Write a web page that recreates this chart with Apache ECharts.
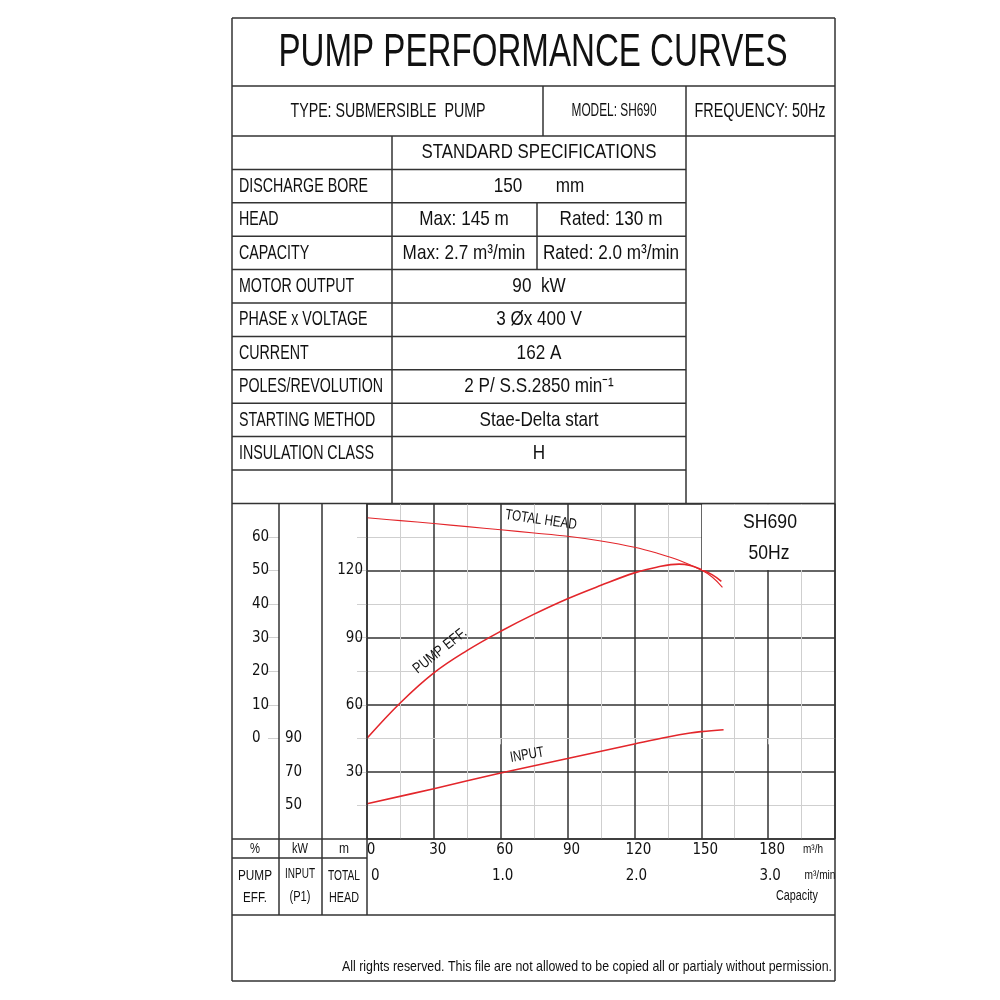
<!DOCTYPE html>
<html>
<head>
<meta charset="utf-8">
<script src="https://cdn.jsdelivr.net/npm/echarts@6/dist/echarts.min.js"></script>
<style>
  html, body { margin: 0; padding: 0; background: #fff; }
  #main { width: 1000px; height: 1000px; }
</style>
</head>
<body>
<div id="main"></div>
<script>
// ---- data ----
const specLabels = ['DISCHARGE BORE', 'HEAD', 'CAPACITY', 'MOTOR OUTPUT', 'PHASE x VOLTAGE',
  'CURRENT', 'POLES/REVOLUTION', 'STARTING METHOD', 'INSULATION CLASS']
const specValues = [['150', 'mm'], ['Max: 145 m', 'Rated: 130 m'], ['Max: 2.7 m³/min', 'Rated: 2.0 m³/min'],
  ['90  kW'], ['3 Øx 400 V'], ['162 A'], ['2 P/ S.S.2850 min⁻¹'], ['Stae-Delta start'], ['H']]

const qTicks = [0, 30, 60, 90, 120, 150, 180]       // m3/h
const qMinTicks = [0, 1, 2, 3]                       // m3/min
const headTicks = [30, 60, 90, 120]                  // m
const kwTicks = [50, 70, 90]                         // kW
const kwMarks = [50, 70, 90, 110, 130, 150, 170, 190, 210]
const pctTicks = [0, 10, 20, 30, 40, 50, 60]         // %

// [capacity m3/h, value]
const headCurve = [[0, 143.6], [15, 142.3], [30, 141], [45, 139.6], [60, 138.2], [75, 136.8], [90, 135.3],
  [105, 133.2], [120, 130.4], [130, 127.8], [140, 124.6], [150, 120.2], [155, 117], [159.5, 112.5]]
const effCurve = [[0, 0], [15, 10.6], [30, 19.5], [45, 26.2], [60, 31.9], [75, 37], [90, 41.6], [105, 45.6],
  [120, 49.3], [130, 51], [140, 51.9], [145, 51.5], [150, 50.3], [155, 48.7], [159, 46.8]]
const inputCurve = [[0, 51], [30, 60], [60, 69.3], [90, 78], [120, 86.6], [135, 90.8], [145, 93.2],
  [150, 94], [160, 95.1]]

// ---- styling ----
const INK = '#111'
const LINE = '#333'
const RED = '#e3262b'
const FONT = '"Liberation Sans", Arial, sans-serif'
const NARROW = '"Liberation Sans Narrow", "DejaVu Sans Condensed", "Liberation Sans", sans-serif'

const mctx = document.createElement('canvas').getContext('2d')
function fitScale(s, fs, w) {
  mctx.font = fs + 'px ' + FONT
  return w / mctx.measureText(s).width
}

function text(s, x, y, fs, sx, align, extra) {
  return Object.assign({
    type: 'text', x, y, scaleX: sx, z: 100,
    style: { text: s, x: 0, y: 0, fill: INK, font: fs + 'px ' + FONT,
      textAlign: align || 'center', textVerticalAlign: 'middle' }
  }, extra)
}
function fit(s, cx, cy, fs, w, extra) {
  return text(s, cx, cy, fs, fitScale(s, fs, w), 'center', extra)
}
function line(x1, y1, x2, y2, color, width) {
  return { type: 'line', z: 90, shape: { x1, y1, x2, y2 },
    style: { stroke: color || LINE, lineWidth: width || 1.5 } }
}

// sheet geometry
const L = 232, R = 835, T = 18, B = 981
const rowTop = 136, rowH = 33.4
const tableR = 686, colSplit = 392, subSplit = 537
const chartTop = 503.4, axisY = 839, axisY2 = 858, footY = 915

const g = []
// frame and header rows
g.push(line(L, T, R, T), line(L, B, R, B), line(L, T, L, B), line(R, T, R, B))
g.push(line(L, 86, R, 86), line(L, rowTop, R, rowTop))
g.push(line(543, 86, 543, rowTop), line(tableR, 86, tableR, chartTop))
g.push(line(colSplit, rowTop, colSplit, chartTop))
for (let k = 1; k <= 10; k++) g.push(line(L, rowTop + k * rowH, tableR, rowTop + k * rowH))
g.push(line(subSplit, rowTop + 2 * rowH, subSplit, rowTop + 4 * rowH))
g.push(line(L, chartTop, R, chartTop))
// chart side columns
g.push(line(279, chartTop, 279, footY), line(322, chartTop, 322, footY), line(367, chartTop, 367, footY))
g.push(line(L, axisY, R, axisY), line(L, axisY2, 367, axisY2), line(L, footY, R, footY))
// blank model box inside the plot
g.push({ type: 'rect', z: 50, shape: { x: 702, y: chartTop + 0.8, width: R - 702 - 0.8, height: 570 - chartTop - 0.8 },
  style: { fill: '#fff' } })

// header texts
g.push(fit('PUMP PERFORMANCE CURVES', 533, 53, 46, 509))
g.push(fit('TYPE: SUBMERSIBLE  PUMP', 388, 111, 21, 195))
g.push(fit('MODEL: SH690', 614, 111, 19, 85))
g.push(fit('FREQUENCY: 50Hz', 760, 111, 20, 131))
g.push(fit('STANDARD SPECIFICATIONS', 539, 152, 21, 235))

// spec rows
const labelSX = fitScale(specLabels[0], 21, 129)
const valueSX = fitScale('Stae-Delta start', 21, 119)
specLabels.forEach((s, i) => {
  const cy = rowTop + (i + 1.5) * rowH
  g.push(text(s, 239, cy, 21, labelSX, 'left'))
  const v = specValues[i]
  if (i === 0) {
    g.push(text(v[0], 508, cy, 21, valueSX), text(v[1], 570, cy, 21, valueSX))
  } else if (v.length === 2) {
    g.push(text(v[0], 464, cy, 21, valueSX), text(v[1], 611, cy, 21, valueSX))
  } else {
    g.push(text(v[0], 539, cy, 21, valueSX))
  }
})

// chart annotations
g.push(fit('SH690', 770, 522, 21, 54), fit('50Hz', 769, 553, 21, 41))
g.push(fit('TOTAL HEAD', 541, 520, 15, 72, { rotation: -0.14 }))
g.push(fit('PUMP EFF.', 440, 651, 15, 64, { rotation: 0.67 }))
g.push(fit('INPUT', 527, 755, 15, 34, { rotation: 0.17 }))
g.push(fit('%', 255, 849, 15, 10), fit('kW', 300, 849, 15, 16), fit('m', 344, 849, 15, 10))
g.push(fit('PUMP', 255, 876, 14, 34), fit('EFF.', 255, 898, 14, 24))
g.push(fit('INPUT', 300, 874, 14, 30), fit('(P1)', 300, 897, 14, 21))
g.push(fit('TOTAL', 344, 876, 14, 32), fit('HEAD', 344, 898, 14, 30))
g.push(fit('m³/h', 813, 849, 13, 20), fit('m³/min', 820, 875, 13, 31), fit('Capacity', 797, 896, 14, 42))
const rights = 'All rights reserved. This file are not allowed to be copied all or partialy without permission.'
g.push(text(rights, 832, 967, 15, fitScale(rights, 15, 490), 'right'))

const axisLabel = { color: INK, fontFamily: NARROW, fontSize: 15 }
const major = { show: true, lineStyle: { color: LINE, width: 1.5 } }
const minor = { show: true, lineStyle: { color: '#cfcfcf', width: 1 } }

const option = {
  backgroundColor: '#fff',
  animation: false,
  grid: { left: 367, top: chartTop, width: R - 367, height: axisY - chartTop },
  xAxis: [{
    type: 'value', min: 0, max: 210, interval: 30,
    axisLine: { show: false }, axisTick: { show: false },
    axisLabel: { ...axisLabel, margin: 4, customValues: qTicks, padding: [0, 0, 0, 8] },
    splitLine: major, minorTick: { show: false, splitNumber: 2 }, minorSplitLine: minor
  }, {
    type: 'value', min: 0, max: 3.5, interval: 1, position: 'bottom', offset: axisY2 - axisY,
    axisLine: { show: true, lineStyle: { color: '#d0d0d0', width: 1 } },
    axisTick: { show: true, length: 6, customValues: [1, 2, 3], lineStyle: { color: '#d0d0d0' } },
    axisLabel: { ...axisLabel, margin: 11, customValues: qMinTicks,
      formatter: v => (v === 0 ? '0' : v.toFixed(1)), alignMinLabel: 'left', padding: [0, 0, 0, 4] },
    splitLine: { show: false }
  }],
  yAxis: [{
    type: 'value', min: 0, max: 150, interval: 30,
    axisLine: { show: false }, axisTick: { show: false },
    axisLabel: { ...axisLabel, margin: 4, customValues: headTicks },
    splitLine: major, minorTick: { show: false, splitNumber: 2 }, minorSplitLine: minor
  }, {
    type: 'value', min: 30, max: 230, interval: 20, position: 'left', offset: 45,
    axisLine: { show: false },
    axisTick: { show: true, length: 10, customValues: kwMarks, lineStyle: { color: '#d0d0d0' } },
    axisLabel: { ...axisLabel, margin: 37, align: 'left', customValues: kwTicks },
    splitLine: { show: false }
  }, {
    type: 'value', min: -30, max: 70, interval: 10, position: 'left', offset: 88,
    axisLine: { show: false },
    axisTick: { show: true, length: 11, customValues: pctTicks, lineStyle: { color: '#d0d0d0' } },
    axisLabel: { ...axisLabel, margin: 27, align: 'left', customValues: pctTicks },
    splitLine: { show: false }
  }],
  series: [
    { name: 'TOTAL HEAD', type: 'line', data: headCurve, xAxisIndex: 0, yAxisIndex: 0, smooth: 0.4,
      showSymbol: false, lineStyle: { color: RED, width: 1.1 }, z: 3 },
    { name: 'PUMP EFF.', type: 'line', data: effCurve, xAxisIndex: 0, yAxisIndex: 2, smooth: 0.4,
      showSymbol: false, lineStyle: { color: RED, width: 1.6 }, z: 3 },
    { name: 'INPUT', type: 'line', data: inputCurve, xAxisIndex: 0, yAxisIndex: 1, smooth: 0.4,
      showSymbol: false, lineStyle: { color: RED, width: 1.6 }, z: 3 }
  ],
  graphic: { elements: g }
}

const chart = echarts.init(document.getElementById('main'))
chart.setOption(option)
</script>
</body>
</html>
